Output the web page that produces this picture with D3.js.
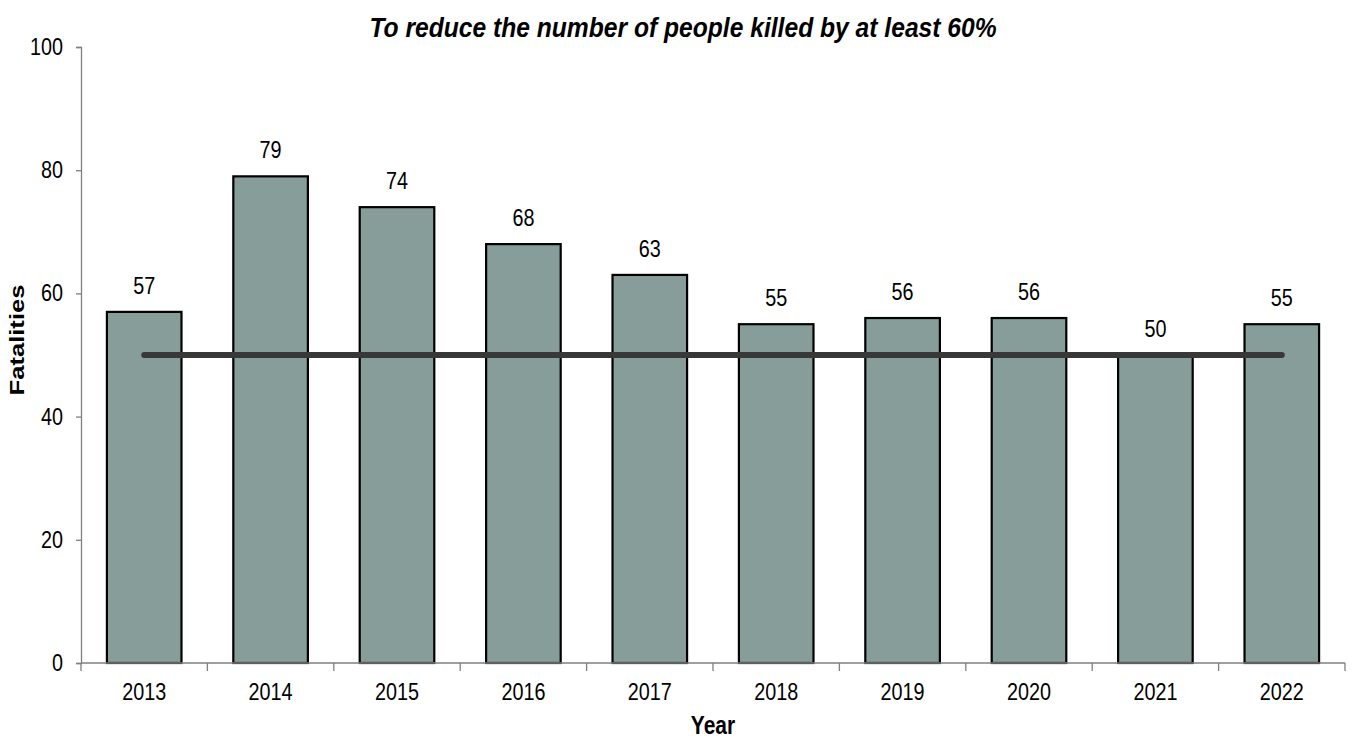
<!DOCTYPE html>
<html>
<head>
<meta charset="utf-8">
<script src="https://cdn.jsdelivr.net/npm/d3@7"></script>
<style>
  html, body { margin:0; padding:0; background:#fff; overflow:hidden; }
  svg { display:block; font-family: "Liberation Sans", Arial, sans-serif; }
</style>
</head>
<body>
<div id="chart"></div>
<script>
const years = ["2013","2014","2015","2016","2017","2018","2019","2020","2021","2022"]
const fatalities = [57,79,74,68,63,55,56,56,50,55]
const target = [50,50,50,50,50,50,50,50,50,50]
const yTicks = [0,20,40,60,80,100]

let width = 1352, height = 740,
    margin = { top:47, left:81, right:7, bottom:77 },
    innerWidth = width - margin.left - margin.right,
    innerHeight = height - margin.top - margin.bottom,
    sx = 0.86   // the reference text is narrow, squeeze it a bit

let svg = d3.select("#chart").append("svg").attr("width",width).attr("height",height)
let g = svg.append("g").attr("transform",`translate(${margin.left},${margin.top})`)

let xScale = d3.scaleBand().domain(years).range([0,innerWidth]).paddingInner(0.41).paddingOuter(0.205)
let yScale = d3.scaleLinear().domain([0,100]).range([innerHeight,0])

// bars
g.selectAll("rect.bar")
  .data(years)
  .enter()
  .append("rect")
  .attr("class","bar")
  .attr("x",d=>xScale(d))
  .attr("y",(d,i)=>yScale(fatalities[i]))
  .attr("width",xScale.bandwidth())
  .attr("height",(d,i)=>innerHeight-yScale(fatalities[i]))
  .attr("fill","#879d99")
  .attr("stroke","#000")
  .attr("stroke-width",2.2)

// value labels
g.selectAll("text.val")
  .data(years)
  .enter()
  .append("text")
  .attr("class","val")
  .attr("transform",(d,i)=>`translate(${xScale(d)+xScale.bandwidth()/2},${yScale(fatalities[i])-18}) scale(${sx},1)`)
  .attr("text-anchor","middle")
  .attr("font-size",23)
  .attr("fill","#000")
  .text((d,i)=>fatalities[i])

// target line
let line = d3.line()
  .x((d,i)=>xScale(years[i])+xScale.bandwidth()/2)
  .y(d=>yScale(d))
g.append("path")
  .datum(target)
  .attr("d",line)
  .attr("fill","none")
  .attr("stroke","#383838")
  .attr("stroke-width",6)
  .attr("stroke-linecap","round")

// y axis
let yAxis = d3.axisLeft(yScale).tickValues(yTicks).tickSize(5).tickFormat("")
let yg = g.append("g").call(yAxis)
yg.select(".domain").attr("stroke","#7f7f7f").attr("stroke-width",1.3)
yg.selectAll(".tick line").attr("stroke","#7f7f7f").attr("stroke-width",1.3)
g.selectAll("text.ytl").data(yTicks).enter().append("text").attr("class","ytl")
  .attr("transform",d=>`translate(-18,${yScale(d)+8}) scale(${sx},1)`)
  .attr("text-anchor","end")
  .attr("font-size",23)
  .text(d=>d)

// x axis, ticks sit between the categories
let xg = g.append("g").attr("transform",`translate(0,${innerHeight})`)
xg.append("line").attr("x1",0).attr("x2",innerWidth).attr("y1",0).attr("y2",0)
  .attr("stroke","#7f7f7f").attr("stroke-width",1.3)
let bounds = years.map(d=>xScale(d)-xScale.step()*xScale.paddingInner()/2).concat([innerWidth])
bounds[0] = 0
xg.selectAll("line.tk").data(bounds).enter().append("line").attr("class","tk")
  .attr("x1",d=>d).attr("x2",d=>d).attr("y1",0).attr("y2",8)
  .attr("stroke","#7f7f7f").attr("stroke-width",1.3)
xg.selectAll("text.lbl").data(years).enter().append("text").attr("class","lbl")
  .attr("transform",d=>`translate(${xScale(d)+xScale.bandwidth()/2},37) scale(${sx},1)`)
  .attr("text-anchor","middle")
  .attr("font-size",23)
  .text(d=>d)

// titles
svg.append("text")
  .attr("transform",`translate(683,37) scale(0.88,1)`)
  .attr("text-anchor","middle")
  .attr("font-size",28)
  .attr("font-weight","bold")
  .attr("font-style","italic")
  .text("To reduce the number of people killed by at least 60%")

svg.append("text")
  .attr("transform",`translate(${margin.left+innerWidth/2},734) scale(0.84,1)`)
  .attr("text-anchor","middle")
  .attr("font-size",25)
  .attr("font-weight","bold")
  .text("Year")

svg.append("text")
  .attr("transform",`translate(24,340) rotate(-90) scale(1.22,1)`)
  .attr("text-anchor","middle")
  .attr("font-size",21)
  .attr("font-weight","bold")
  .text("Fatalities")
</script>
</body>
</html>
